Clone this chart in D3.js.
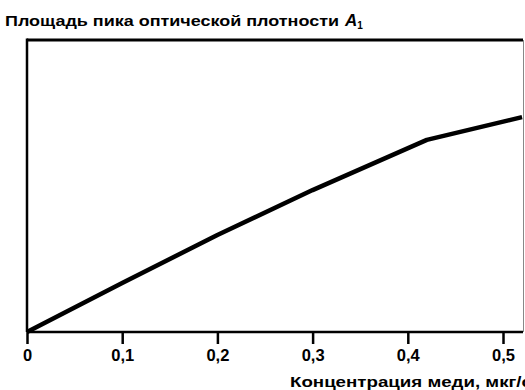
<!DOCTYPE html>
<html>
<head>
<meta charset="utf-8">
<script src="https://cdn.jsdelivr.net/npm/d3@7"></script>
<style>
	body { margin: 0; background: #fff; }
	svg { display: block; }
	text { font-family: "Liberation Sans", Arial, sans-serif; font-weight: bold; fill: #000; }
</style>
</head>
<body>
<svg width="525" height="390"></svg>
<script>
// copper concentration vs peak area of optical density
const concentration = [0, 0.1, 0.2, 0.3, 0.42, 0.52];
const peakArea = [0, 0.168, 0.332, 0.486, 0.658, 0.736];
const tickValues = [0, 0.1, 0.2, 0.3, 0.4, 0.5];
const tickLabels = ["0", "0,1", "0,2", "0,3", "0,4", "0,5"];
const titleText = "Площадь пика оптической плотности";
const xLabelText = "Концентрация меди, мкг/см³";

const svg = d3.select("svg");
const plotLeft = 27, plotRight = 523, plotTop = 40, plotBottom = 332;

const x = d3.scaleLinear().domain([0, 0.521]).range([plotLeft, plotRight]);
const y = d3.scaleLinear().domain([0, 1]).range([plotBottom, plotTop]);

// frame
svg.append("line").attr("x1", plotLeft).attr("x2", plotRight).attr("y1", plotTop).attr("y2", plotTop)
	.attr("stroke", "#000").attr("stroke-width", 3);
svg.append("line").attr("x1", plotLeft).attr("x2", plotLeft).attr("y1", plotTop - 1.5).attr("y2", plotBottom)
	.attr("stroke", "#000").attr("stroke-width", 2.5);
svg.append("line").attr("x1", plotRight + 0.5).attr("x2", plotRight + 0.5).attr("y1", plotTop).attr("y2", plotBottom)
	.attr("stroke", "#888").attr("stroke-width", 1);

// x axis
const xAxis = d3.axisBottom(x)
	.tickValues(tickValues)
	.tickFormat((d, i) => tickLabels[i])
	.tickSize(12)
	.tickSizeOuter(0)
	.tickPadding(5);

const gx = svg.append("g")
	.attr("transform", "translate(0," + plotBottom + ")")
	.call(xAxis);
gx.select(".domain").attr("stroke", "#000").attr("stroke-width", 2.5)
	.attr("d", "M" + plotLeft + ",0H" + plotRight);
gx.selectAll(".tick line").attr("stroke", "#000").attr("stroke-width", 2.5);
gx.selectAll(".tick text")
	.style("font-family", "'Liberation Sans', Arial, sans-serif")
	.style("font-weight", "bold")
	.attr("font-size", 16.5)
	.attr("fill", "#000");

// curve
const line = d3.line()
	.x((d, i) => x(concentration[i]))
	.y(d => y(d));

svg.append("path")
	.datum(peakArea)
	.attr("d", line)
	.attr("fill", "none")
	.attr("stroke", "#000")
	.attr("stroke-width", 4.5)
	.attr("stroke-linejoin", "round");

// title
const title = svg.append("text")
	.attr("x", 5)
	.attr("y", 26)
	.attr("font-size", 14);
title.append("tspan")
	.attr("textLength", 334)
	.attr("lengthAdjust", "spacingAndGlyphs")
	.text(titleText);
title.append("tspan").attr("dx", 6).attr("font-style", "italic").attr("font-size", 17).text("A");
title.append("tspan").attr("font-size", 10).attr("dy", 3).text("1");

// x label
svg.append("text")
	.attr("x", 290)
	.attr("y", 387)
	.attr("font-size", 14)
	.attr("textLength", 262)
	.attr("lengthAdjust", "spacingAndGlyphs")
	.text(xLabelText);
</script>
</body>
</html>
